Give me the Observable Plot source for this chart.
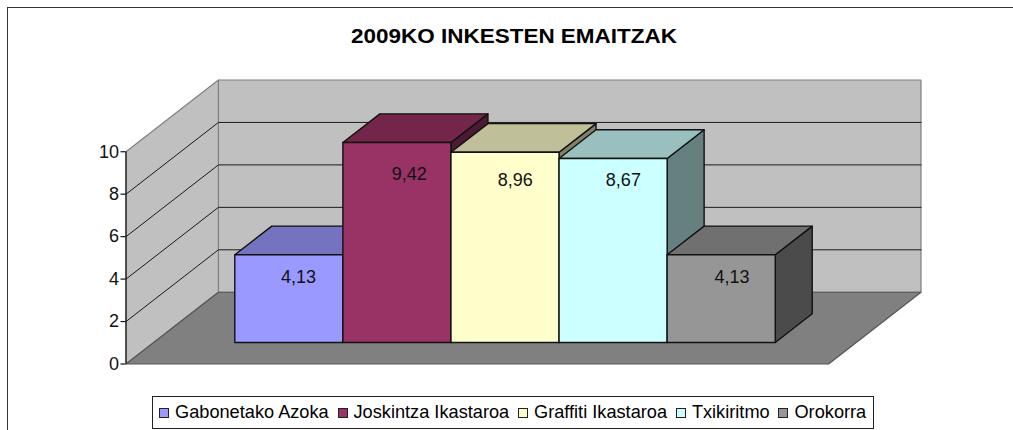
<!DOCTYPE html>
<html>
<head>
<meta charset="utf-8">
<script src="https://cdn.jsdelivr.net/npm/d3@7"></script>
<script src="https://cdn.jsdelivr.net/npm/@observablehq/plot@0.6"></script>
<style>
  html, body { margin: 0; padding: 0; background: #fff; }
  #chart { position: relative; width: 1013px; height: 430px; overflow: hidden;
           font-family: "Liberation Sans", Arial, sans-serif; color: #000; box-sizing: border-box; }
  #edge { position: absolute; left: 7px; top: 7px; right: -4px; bottom: -4px; border: 1.5px solid #333; }
  #title { position: absolute; left: 0; width: 1028px; top: 24px; text-align: center;
           font-weight: bold; font-size: 21px; line-height: 24px; transform: scaleX(1.07); transform-origin: 514px 0; }
  #plot { position: absolute; left: 0; top: 60px; }
  #plot svg { display: block; background: transparent; }
  #legend { position: absolute; left: 152px; top: 396px; width: 722px; height: 33px; box-sizing: border-box;
            border: 1px solid #222; background: #fff; display: flex; align-items: center;
            padding-left: 6px; font-size: 18.2px; white-space: nowrap; }
  #legend .key { width: 8px; height: 8px; border: 1px solid #222; margin-right: 6px; flex: none; }
  #legend .item { display: flex; align-items: center; margin-right: 8.8px; }
</style>
</head>
<body>
<div id="chart">
  <div id="edge"></div>
  <div id="title"></div>
  <div id="plot"></div>
  <div id="legend"></div>
</div>
<script>
// ---- data ----
const chartTitle = "2009KO INKESTEN EMAITZAK";
const categories = ["Gabonetako Azoka", "Joskintza Ikastaroa", "Graffiti Ikastaroa", "Txikiritmo", "Orokorra"];
const values = [4.13, 9.42, 8.96, 8.67, 4.13];
const valueLabels = ["4,13", "9,42", "8,96", "8,67", "4,13"];
const frontColors = ["#9999FF", "#993366", "#FFFFCC", "#CCFFFF", "#969696"];
const topColors = ["#7373BF", "#732649", "#BFBF99", "#99BFBF", "#707070"];
const sideColors = ["#4D4D80", "#4D1A33", "#808066", "#668080", "#4B4B4B"];
const yTicks = [0, 2, 4, 6, 8, 10];

// ---- oblique projection of the 3-D box into the x/y data space ----
const gap = 0.75;                // space between wall and first bar, in bar widths
const depthX = 0.855;            // full depth along x, in bar widths
const depthY = 3.38;             // full depth along y, in value units
const barNear = 0.3, barFar = 0.7; // bars sit between these depth fractions
const P = (u, v, d) => ({x: u + d * depthX, y: v + d * depthY});
const xMin = -gap, xMax = categories.length + gap, yMax = 10;

const poly = (pts, fill, stroke = "#111", strokeWidth = 1.4) =>
  Plot.line(pts, {x: "x", y: "y", curve: "linear-closed", fill, stroke, strokeWidth});

// Walls and floor
const walls = [
  poly([P(xMin, 0, 1), P(xMax, 0, 1), P(xMax, yMax, 1), P(xMin, yMax, 1)], "#C0C0C0", "#808080", 1.2),
  poly([P(xMin, 0, 0), P(xMin, 0, 1), P(xMin, yMax, 1), P(xMin, yMax, 0)], "#C0C0C0", "#808080", 1.2),
  poly([P(xMin, 0, 0), P(xMax, 0, 0), P(xMax, 0, 1), P(xMin, 0, 1)], "#808080", "#555", 1.2)
];
// Gridlines run over the side wall and along the back wall
const grid = yTicks.filter(t => t > 0 && t < yMax).map(t =>
  Plot.line([P(xMin, t, 0), P(xMin, t, 1), P(xMax, t, 1)], {x: "x", y: "y", stroke: "#1a1a1a", strokeWidth: 1})
);
// Bars, painted left to right so each covers its neighbour
const bars = values.flatMap((v, i) => {
  const a = i, b = i + 1;
  return [
    poly([P(b, 0, barNear), P(b, 0, barFar), P(b, v, barFar), P(b, v, barNear)], sideColors[i]),
    poly([P(a, v, barNear), P(b, v, barNear), P(b, v, barFar), P(a, v, barFar)], topColors[i]),
    poly([P(a, 0, barNear), P(b, 0, barNear), P(b, v, barNear), P(a, v, barNear)], frontColors[i])
  ];
});
// Labels hang below the bar tops, a little right of the front face's centre
const labelDrop = [1.04, 1.5, 1.3, 1.03, 1.04];
const labelShift = [0.09, 0.115, 0.095, 0.095, 0.1];
const labels = values.map((v, i) => ({
  ...P(i + 0.5 + labelShift[i], v - labelDrop[i], barNear),
  text: valueLabels[i]
}));

const plot = Plot.plot({
  width: 1013,
  height: 320,
  marginLeft: 125.5,
  marginRight: 92.5,
  marginTop: 19.5,
  marginBottom: 16.5,
  style: {background: "transparent", fontFamily: '"Liberation Sans", Arial, sans-serif'},
  x: {domain: [xMin, xMax + depthX], axis: null},
  y: {domain: [0, yMax + depthY], axis: null},
  marks: [
    ...walls,
    ...grid,
    ...bars,
    Plot.ruleX([xMin], {y1: 0, y2: yMax, stroke: "#111", strokeWidth: 1.2}),
    Plot.axisY({ticks: yTicks, tickSize: 5, tickPadding: 2, fontSize: 18, stroke: "#111", strokeWidth: 1.2, color: "#111", label: null, tickFormat: d => String(d)}),
    Plot.text(labels, {x: "x", y: "y", text: "text", fontSize: 18, fill: "#111"})
  ]
});
document.getElementById("plot").appendChild(plot);

document.getElementById("title").textContent = chartTitle;
const legend = document.getElementById("legend");
categories.forEach((c, i) => {
  const item = document.createElement("span");
  item.className = "item";
  const key = document.createElement("span");
  key.className = "key";
  key.style.background = frontColors[i];
  item.appendChild(key);
  item.appendChild(document.createTextNode(c));
  legend.appendChild(item);
});
</script>
</body>
</html>
